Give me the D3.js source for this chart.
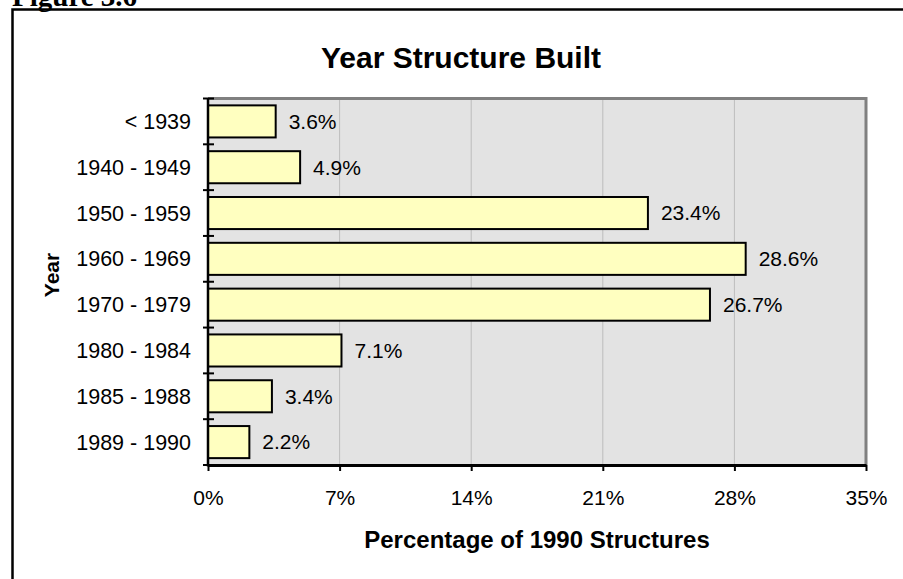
<!DOCTYPE html>
<html>
<head>
<meta charset="utf-8">
<script src="https://cdn.jsdelivr.net/npm/d3@7/dist/d3.min.js"></script>
<style>
  html, body { margin: 0; padding: 0; background: #fff; overflow: hidden; }
  svg { display: block; }
  text { font-family: Arial, "Liberation Sans", sans-serif; fill: #000; }
</style>
</head>
<body>
<svg id="chart" width="903" height="579"></svg>
<script>
const categories = ["< 1939", "1940 - 1949", "1950 - 1959", "1960 - 1969", "1970 - 1979", "1980 - 1984", "1985 - 1988", "1989 - 1990"];
const values = [3.6, 4.9, 23.4, 28.6, 26.7, 7.1, 3.4, 2.2];
const xTicks = [0, 7, 14, 21, 28, 35];
const titleText = "Year Structure Built";
const xTitle = "Percentage of 1990 Structures";
const yTitle = "Year";
const figureLabel = "Figure 3.6";

const svg = d3.select("#chart");
const W = 903, H = 579;
const plot = { left: 208, right: 866, top: 98.5, bottom: 465 };

// outer frame
svg.append("rect")
  .attr("x", 12.5).attr("y", 9.5)
  .attr("width", W + 10).attr("height", H + 10)
  .attr("fill", "none").attr("stroke", "#000").attr("stroke-width", 2.5);

// figure label (partly cut off at top, as in the reference)
svg.append("text")
  .attr("x", 12).attr("y", 6)
  .style("font-family", "'Liberation Serif', 'Times New Roman', serif")
  .style("font-weight", "bold")
  .style("font-size", "29px")
  .text(figureLabel);

const x = d3.scaleLinear().domain([0, 35]).range([plot.left, plot.right]);
const y = d3.scaleBand().domain(categories).range([plot.top, plot.bottom]).paddingInner(0.3).paddingOuter(0.15);

// plot background
svg.append("rect")
  .attr("x", plot.left).attr("y", plot.top)
  .attr("width", plot.right - plot.left).attr("height", plot.bottom - plot.top)
  .attr("fill", "#e3e3e3");

// gridlines
svg.append("g").selectAll("line")
  .data(xTicks.filter(t => t > 0 && t < 35))
  .join("line")
  .attr("x1", d => x(d)).attr("x2", d => x(d))
  .attr("y1", plot.top).attr("y2", plot.bottom)
  .attr("stroke", "#bdbdbd").attr("stroke-width", 1);

// top and right gray borders
svg.append("path")
  .attr("d", `M${plot.left},${plot.top}H${plot.right}V${plot.bottom}`)
  .attr("fill", "none").attr("stroke", "#808080").attr("stroke-width", 3);

// bars
svg.append("g").selectAll("rect")
  .data(values)
  .join("rect")
  .attr("x", x(0))
  .attr("y", (d, i) => y(categories[i]))
  .attr("width", d => x(d) - x(0))
  .attr("height", y.bandwidth())
  .attr("fill", "#ffffc0")
  .attr("stroke", "#000").attr("stroke-width", 2);

// value labels
svg.append("g").selectAll("text")
  .data(values)
  .join("text")
  .attr("x", d => x(d) + 13)
  .attr("y", (d, i) => y(categories[i]) + y.bandwidth() / 2)
  .attr("dy", "0.35em")
  .style("font-size", "21px")
  .text(d => d.toFixed(1) + "%");

// x axis
const xAxis = d3.axisBottom(x).tickValues(xTicks).tickFormat(d => d + "%").tickSize(6).tickSizeOuter(0).tickPadding(19);
const gx = svg.append("g").attr("transform", `translate(0,${plot.bottom})`).call(xAxis);
gx.select(".domain").attr("stroke", "#000").attr("stroke-width", 3);
gx.selectAll(".tick line").attr("stroke", "#000").attr("stroke-width", 2);
gx.selectAll(".tick text").style("font-size", "21px").style("font-family", "Arial, 'Liberation Sans', sans-serif").attr("fill", "#000");

// y axis
const boundaries = d3.range(categories.length + 1).map(i => plot.top + i * (plot.bottom - plot.top) / categories.length);
const gy = svg.append("g");
gy.append("line")
  .attr("x1", plot.left).attr("x2", plot.left)
  .attr("y1", plot.top).attr("y2", plot.bottom + 1.5)
  .attr("stroke", "#000").attr("stroke-width", 2.5);
gy.selectAll("line.tk")
  .data(boundaries)
  .join("line").attr("class", "tk")
  .attr("x1", plot.left - 5).attr("x2", plot.left + 6)
  .attr("y1", d => d).attr("y2", d => d)
  .attr("stroke", "#000").attr("stroke-width", 2);
gy.selectAll("text")
  .data(categories)
  .join("text")
  .attr("x", 191)
  .attr("y", d => y(d) + y.bandwidth() / 2)
  .attr("dy", "0.35em")
  .attr("text-anchor", "end")
  .style("font-size", "21.5px")
  .text(d => d);

// titles
svg.append("text")
  .attr("x", 461).attr("y", 68)
  .attr("text-anchor", "middle")
  .style("font-weight", "bold").style("font-size", "30px")
  .text(titleText);

svg.append("text")
  .attr("x", (plot.left + plot.right) / 2).attr("y", 548)
  .attr("text-anchor", "middle")
  .style("font-weight", "bold").style("font-size", "24px")
  .text(xTitle);

svg.append("text")
  .attr("transform", `translate(59,275) rotate(-90)`)
  .attr("text-anchor", "middle")
  .style("font-weight", "bold").style("font-size", "21px")
  .text(yTitle);
</script>
</body>
</html>
